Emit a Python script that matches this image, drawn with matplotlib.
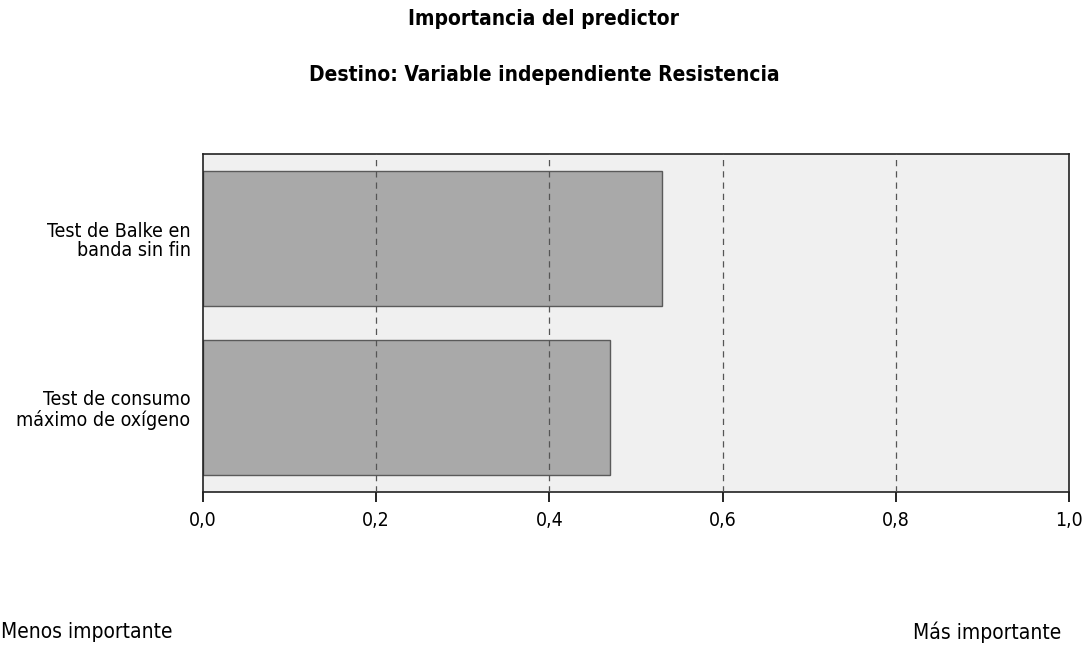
import matplotlib
matplotlib.use("Agg")
import matplotlib.pyplot as plt

# data
predictors = ["Test de Balke en\nbanda sin fin", "Test de consumo\nmáximo de oxígeno"]
importance = [0.53, 0.47]
xticks = [0.0, 0.2, 0.4, 0.6, 0.8, 1.0]
xtick_labels = ["0,0", "0,2", "0,4", "0,6", "0,8", "1,0"]

plt.rcParams['font.family'] = ['Liberation Sans Narrow', 'DejaVu Sans']
plt.rcParams['font.stretch'] = 'condensed'

fig = plt.figure(figsize=(10.88, 6.48), dpi=100)
ax = fig.add_axes([0.1866, 0.2407, 0.7960, 0.5216])

ax.set_facecolor('#f0f0f0')
ax.barh(range(len(predictors)), importance, height=0.8,
        color='#a9a9a9', edgecolor='#5a5a5a', linewidth=1.0, zorder=2)

ax.set_xlim(0, 1)
ax.set_ylim(1.5, -0.5)
ax.set_yticks(range(len(predictors)))
ax.set_yticklabels(predictors, fontsize=14, linespacing=1.05)
ax.tick_params(axis='y', length=0, pad=9)
ax.set_xticks(xticks)
ax.set_xticklabels(xtick_labels, fontsize=14)
ax.tick_params(axis='x', length=7, width=1.2, direction='out', pad=7)

for x in xticks[1:-1]:
    ax.axvline(x, color='#555555', linestyle=(0, (5, 4)), linewidth=0.9, zorder=3)

for side in ['top', 'left', 'right', 'bottom']:
    ax.spines[side].set_color('#222222')
    ax.spines[side].set_linewidth(1.2)

fig.text(0.5, 0.971, "Importancia del predictor", ha='center', va='center',
         fontsize=15, fontweight='bold')
fig.text(0.5, 0.885, "Destino: Variable independiente Resistencia", ha='center',
         va='center', fontsize=15, fontweight='bold')
fig.text(0.001, 0.025, "Menos importante", ha='left', va='center', fontsize=15)
fig.text(0.975, 0.025, "Más importante", ha='right', va='center', fontsize=15)

fig.savefig("out.png", dpi=100)
